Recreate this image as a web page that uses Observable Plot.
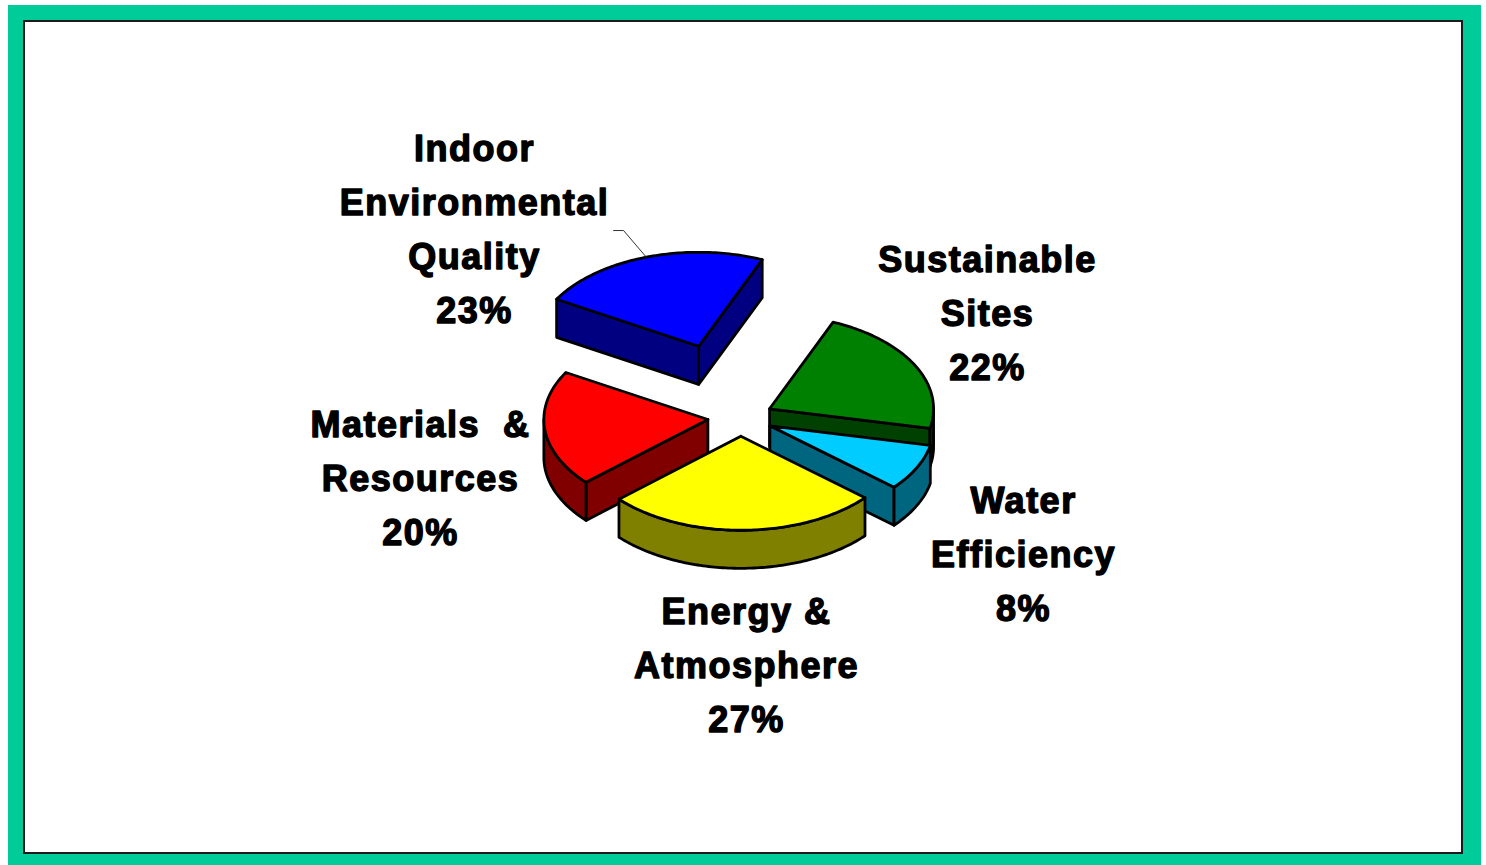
<!DOCTYPE html>
<html><head><meta charset="utf-8">
<script src="https://cdn.jsdelivr.net/npm/d3@7"></script>
<script src="https://cdn.jsdelivr.net/npm/@observablehq/plot@0.6"></script>
<style>
html,body{margin:0;padding:0;background:#fff;overflow:hidden;}
#frame{position:absolute;left:8px;top:5px;width:1473px;height:880px;background:#00CC99;}
#inner{position:absolute;left:15px;top:15px;width:1436px;height:830px;border:2px solid #1a1a1a;background:#fff;}
#inner svg{display:block;}
</style></head><body>
<div id="frame"><div id="inner"></div></div>
<script>
// ---- data ----
const categories = ["Sustainable Sites", "Water Efficiency", "Energy & Atmosphere", "Materials & Resources", "Indoor Environmental Quality"];
const shares = [22, 8, 27, 20, 23];
const labelNames = ["Sustainable\nSites", "Water\nEfficiency", "Energy &\nAtmosphere", "Materials  &\nResources", "Indoor\nEnvironmental\nQuality"];

// ---- styles ----
const topColors = ["#008000", "#00CCFF", "#FFFF00", "#FF0000", "#0000FF"];
const sideColors = ["#004000", "#006680", "#808000", "#800000", "#000080"];

// ---- layout (pie units: 1 = radius) ----
const startAngle = 22.8;           // degrees clockwise from 12 o'clock
const explode = [0.2, 0.2, 0.2, 0.2, 0.8];
const tilt = 0.573;                // vertical squash of the pie
const depth = 0.232;               // thickness
const labelAnchors = [[1.506, 0.662], [1.726, -0.804], [0.037, -1.481], [-1.951, -0.341], [-1.622, 1.174]];
const leaderStart = [[-0.774, 1.14], [-0.713, 1.14]];
const W = 1436, H = 830, unit = 164, cx = 715, cy = 395;

const rad = d => d * Math.PI / 180;
const total = d3.sum(shares);
let acc = startAngle;
const slices = shares.map((v, i) => {
  const a = acc, b = acc + v / total * 360; acc = b;
  const mid = (a + b) / 2;
  const off = {x: explode[i] * Math.sin(rad(mid)), y: explode[i] * tilt * Math.cos(rad(mid))};
  return {i, a, b, mid, off, name: categories[i]};
});
const pt = (off, r, deg, z = 0) => ({x: off.x + r * Math.sin(rad(deg)), y: off.y + r * tilt * Math.cos(rad(deg)) - z});
const arc = (off, s, e, z = 0) => { const n = Math.max(2, Math.ceil(Math.abs(e - s))); return d3.range(n + 1).map(k => pt(off, 1, s + (e - s) * k / n, z)); };
const close = p => [...p, p[0]];

const marks = [];
const order = [...slices].sort((p, q) => (q.off.y + 0.6 * tilt * Math.cos(rad(q.mid))) - (p.off.y + 0.6 * tilt * Math.cos(rad(p.mid))));
for (const s of order) {
  const sideStyle = {x: "x", y: "y", fill: sideColors[s.i], stroke: "black", strokeWidth: 2.8, strokeLinejoin: "round"};
  const topStyle = {x: "x", y: "y", fill: topColors[s.i], stroke: "black", strokeWidth: 2.8, strokeLinejoin: "round"};
  const apex = pt(s.off, 0, 0), apexD = pt(s.off, 0, 0, depth);
  // radial walls
  if (Math.cos(rad(s.a - 90)) < 0) marks.push(Plot.line(close([apex, pt(s.off, 1, s.a), pt(s.off, 1, s.a, depth), apexD]), sideStyle));
  if (Math.cos(rad(s.b + 90)) < 0) marks.push(Plot.line(close([apex, pt(s.off, 1, s.b), pt(s.off, 1, s.b, depth), apexD]), sideStyle));
  // outer curtain
  for (const k of [0, 360]) {
    const st = Math.max(s.a, 90 + k), en = Math.min(s.b, 270 + k);
    if (st < en) marks.push(Plot.line(close([...arc(s.off, st, en), ...arc(s.off, en, st, depth)]), sideStyle));
  }
  // top face
  marks.push(Plot.line(close([apex, ...arc(s.off, s.a, s.b)]), topStyle));
}

// leader line for the exploded slice
const ieq = slices[4];
const rim = pt(ieq.off, 1, ieq.mid);
marks.push(Plot.line([{x: leaderStart[0][0], y: leaderStart[0][1]}, {x: leaderStart[1][0], y: leaderStart[1][1]}, rim], {x: "x", y: "y", stroke: "#333", strokeWidth: 1}));

// labels
const labels = slices.map(s => ({x: labelAnchors[s.i][0], y: labelAnchors[s.i][1], text: `${labelNames[s.i]}\n${shares[s.i]}%`}));
marks.push(Plot.text(labels, {x: "x", y: "y", text: "text", fontFamily: "'Liberation Sans', Arial, sans-serif", fontWeight: "bold", fontSize: 36, lineHeight: 1.5, fill: "black", stroke: "black", strokeWidth: 1.4}));

const chart = Plot.plot({
  width: W, height: H, margin: 0,
  x: {domain: [-cx / unit, (W - cx) / unit], axis: null},
  y: {domain: [-(H - cy) / unit, cy / unit], axis: null},
  style: {background: "transparent", overflow: "visible", letterSpacing: "1.5px"},
  marks
});
document.getElementById("inner").appendChild(chart);
</script>
</body></html>
